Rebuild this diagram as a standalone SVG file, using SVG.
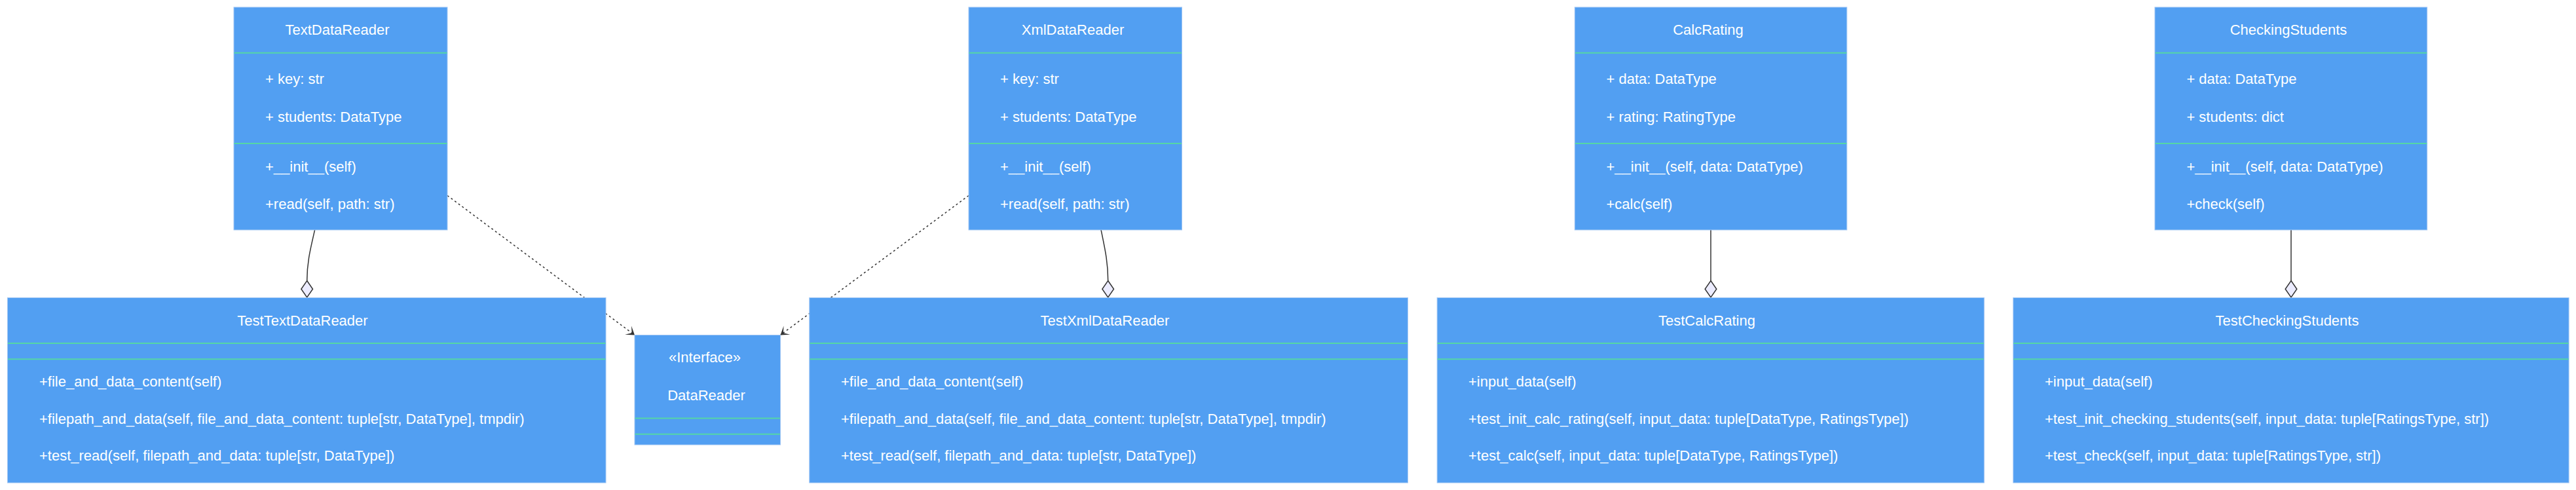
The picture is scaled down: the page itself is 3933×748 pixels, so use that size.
<svg xmlns="http://www.w3.org/2000/svg" width="3933" height="748" viewBox="0 0 3933 748">
<style>
.box{fill:#529ff2;stroke:#9fc5f3;stroke-width:1}
.div{stroke:#55d6a6;stroke-width:2}
text{font-family:"Liberation Sans",Arial,sans-serif;font-size:22px;fill:#ffffff}
.t{text-anchor:middle}
.rel{fill:none;stroke:#333333;stroke-width:1.5}
.dash{fill:none;stroke:#333333;stroke-width:1.5;stroke-dasharray:3,4}
.dia{fill:#ececff;stroke:#333333;stroke-width:1.5}
</style>
<defs>
<marker id="dep" viewBox="0 0 20 14" refX="18" refY="7" markerWidth="27.5" markerHeight="19.25" markerUnits="userSpaceOnUse" orient="auto">
<path d="M18,7 L9,13 L14,7 L9,1 Z" fill="#333333"/>
</marker>
</defs>
<rect width="3933" height="748" fill="#ffffff"/>
<g id="connectors">
<path class="rel" d="M480.7,350.7 C474,380 468.7,400 468.7,428.5"/>
<polygon class="dia" points="468.7,428.5 477.5,441.3 468.7,454 459.9,441.3"/>
<path class="rel" d="M1681,350.7 C1687,380 1691.7,400 1691.7,428.5"/>
<polygon class="dia" points="1691.7,428.5 1700.5,441.3 1691.7,454 1682.9,441.3"/>
<path class="rel" d="M2612,350.7 L2612,428.5"/>
<polygon class="dia" points="2612,428.5 2620.8,441.3 2612,454 2603.2,441.3"/>
<path class="rel" d="M3498,350.7 L3498,428.5"/>
<polygon class="dia" points="3498,428.5 3506.8,441.3 3498,454 3489.2,441.3"/>
<path class="dash" d="M683,298.5 L969,511.5" marker-end="url(#dep)"/>
<path class="dash" d="M1479,298.5 L1191.5,511.5" marker-end="url(#dep)"/>
</g>
<g id="TextDataReader">
<rect class="box" x="357" y="11" width="326" height="340"/>
<line class="div" x1="357.5" y1="80.7" x2="682.5" y2="80.7"/>
<line class="div" x1="357.5" y1="219" x2="682.5" y2="219"/>
<text class="t" x="515" y="53.3">TextDataReader</text>
<text x="405" y="128.3">+ key: str</text>
<text x="405" y="185.7">+ students: DataType</text>
<text x="405" y="261.7">+__init__(self)</text>
<text x="405" y="319">+read(self, path: str)</text>
</g>
<g id="XmlDataReader">
<rect class="box" x="1479" y="11" width="325.5" height="340"/>
<line class="div" x1="1479.5" y1="80.7" x2="1804" y2="80.7"/>
<line class="div" x1="1479.5" y1="219" x2="1804" y2="219"/>
<text class="t" x="1638" y="53.3">XmlDataReader</text>
<text x="1527" y="128.3">+ key: str</text>
<text x="1527" y="185.7">+ students: DataType</text>
<text x="1527" y="261.7">+__init__(self)</text>
<text x="1527" y="319">+read(self, path: str)</text>
</g>
<g id="CalcRating">
<rect class="box" x="2404.3" y="11" width="415.5" height="340"/>
<line class="div" x1="2404.8" y1="80.7" x2="2819.3" y2="80.7"/>
<line class="div" x1="2404.8" y1="219" x2="2819.3" y2="219"/>
<text class="t" x="2608" y="53.3">CalcRating</text>
<text x="2452.5" y="128.3">+ data: DataType</text>
<text x="2452.5" y="185.7">+ rating: RatingType</text>
<text x="2452.5" y="261.7">+__init__(self, data: DataType)</text>
<text x="2452.5" y="319">+calc(self)</text>
</g>
<g id="CheckingStudents">
<rect class="box" x="3290" y="11" width="415.7" height="340"/>
<line class="div" x1="3290.5" y1="80.7" x2="3705.2" y2="80.7"/>
<line class="div" x1="3290.5" y1="219" x2="3705.2" y2="219"/>
<text class="t" x="3494" y="53.3">CheckingStudents</text>
<text x="3338.4" y="128.3">+ data: DataType</text>
<text x="3338.4" y="185.7">+ students: dict</text>
<text x="3338.4" y="261.7">+__init__(self, data: DataType)</text>
<text x="3338.4" y="319">+check(self)</text>
</g>
<g id="TestTextDataReader">
<rect class="box" x="11.5" y="454.5" width="913.5" height="282.5"/>
<line class="div" x1="12" y1="524" x2="924.5" y2="524"/>
<line class="div" x1="12" y1="548.3" x2="924.5" y2="548.3"/>
<text class="t" x="462" y="496.7">TestTextDataReader</text>
<text x="60" y="590">+file_and_data_content(self)</text>
<text x="60" y="646.7">+filepath_and_data(self, file_and_data_content: tuple[str, DataType], tmpdir)</text>
<text x="60" y="703.3">+test_read(self, filepath_and_data: tuple[str, DataType])</text>
</g>
<g id="DataReader">
<rect class="box" x="969" y="511.5" width="222.5" height="167.5"/>
<line class="div" x1="969.5" y1="638.4" x2="1191" y2="638.4"/>
<line class="div" x1="969.5" y1="662.7" x2="1191" y2="662.7"/>
<text class="t" x="1076" y="553.3">«Interface»</text>
<text class="t" x="1078.5" y="610.7">DataReader</text>
</g>
<g id="TestXmlDataReader">
<rect class="box" x="1235.8" y="454.5" width="913.6" height="282.5"/>
<line class="div" x1="1236.3" y1="524" x2="2148.9" y2="524"/>
<line class="div" x1="1236.3" y1="548.3" x2="2148.9" y2="548.3"/>
<text class="t" x="1687" y="496.7">TestXmlDataReader</text>
<text x="1284" y="590">+file_and_data_content(self)</text>
<text x="1284" y="646.7">+filepath_and_data(self, file_and_data_content: tuple[str, DataType], tmpdir)</text>
<text x="1284" y="703.3">+test_read(self, filepath_and_data: tuple[str, DataType])</text>
</g>
<g id="TestCalcRating">
<rect class="box" x="2194.2" y="454.5" width="835.1" height="282.5"/>
<line class="div" x1="2194.7" y1="524" x2="3028.8" y2="524"/>
<line class="div" x1="2194.7" y1="548.3" x2="3028.8" y2="548.3"/>
<text class="t" x="2606" y="496.7">TestCalcRating</text>
<text x="2242" y="590">+input_data(self)</text>
<text x="2242" y="646.7">+test_init_calc_rating(self, input_data: tuple[DataType, RatingsType])</text>
<text x="2242" y="703.3">+test_calc(self, input_data: tuple[DataType, RatingsType])</text>
</g>
<g id="TestCheckingStudents">
<rect class="box" x="3073.8" y="454.5" width="848.3" height="282.5"/>
<line class="div" x1="3074.3" y1="524" x2="3921.6" y2="524"/>
<line class="div" x1="3074.3" y1="548.3" x2="3921.6" y2="548.3"/>
<text class="t" x="3492" y="496.7">TestCheckingStudents</text>
<text x="3122" y="590">+input_data(self)</text>
<text x="3122" y="646.7">+test_init_checking_students(self, input_data: tuple[RatingsType, str])</text>
<text x="3122" y="703.3">+test_check(self, input_data: tuple[RatingsType, str])</text>
</g>
</svg>
